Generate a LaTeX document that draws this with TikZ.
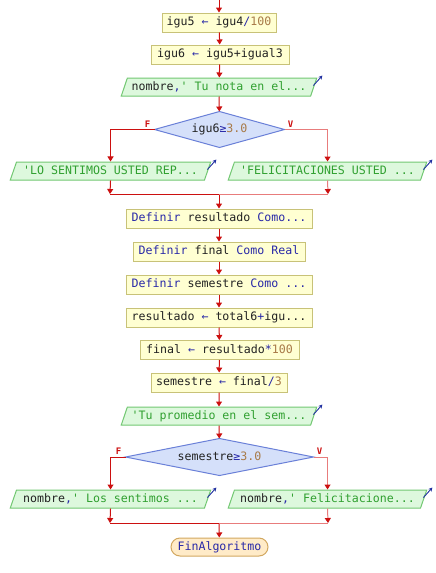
\documentclass[tikz,border=0pt]{standalone}
\usepackage{fontspec}
\setmonofont{DejaVu Sans Mono}
\usetikzlibrary{shapes.geometric,arrows.meta,backgrounds}

% colours of the flowchart
\definecolor{flowred}{HTML}{CC1010}
\definecolor{flowredlight}{HTML}{E87C7C}
\definecolor{procfill}{HTML}{FFFFD2}
\definecolor{procdraw}{HTML}{C8C278}
\definecolor{iofill}{HTML}{DDF8DD}
\definecolor{iodraw}{HTML}{72C872}
\definecolor{decfill}{HTML}{D5E0FA}
\definecolor{decdraw}{HTML}{6A80D8}
\definecolor{endfill}{HTML}{FFEBC8}
\definecolor{enddraw}{HTML}{D2A860}
\definecolor{kw}{HTML}{2828A8}
\definecolor{num}{HTML}{A87A48}
\definecolor{str}{HTML}{30A030}
\definecolor{txt}{HTML}{222222}
\definecolor{iconblue}{HTML}{2030A0}

% text pieces
\newcommand{\K}[1]{\textcolor{kw}{#1}}
\newcommand{\N}[1]{\textcolor{num}{#1}}
\newcommand{\Str}[1]{\textcolor{str}{#1}}

\tikzset{
  base/.style={font=\ttfamily\fontsize{11.6}{13}\selectfont, text=txt,
    text height=8.6pt, text depth=2.6pt, line width=1pt},
  procbox/.style={base, rectangle, draw=procdraw, fill=procfill,
    minimum height=19pt, inner sep=0pt},
  iobox/.style={base, trapezium, trapezium left angle=66, trapezium right angle=114,
    trapezium stretches=true, draw=iodraw, fill=iofill, minimum height=18pt, inner sep=1pt},
  % decision: invisible box, the diamond itself goes on the background layer
  decbox/.style={base, rectangle, inner sep=0pt},
  diamondshape/.style={draw=decdraw, fill=decfill, line width=1pt, line join=miter},
  endbox/.style={base, rectangle, rounded corners=9pt, draw=enddraw, fill=endfill,
    minimum height=18pt, inner sep=0pt},
  tip/.style={-{Triangle[width=6pt,length=5pt,color=flowred]}},
  flow/.style={draw=flowred, line width=1pt},
  flowlight/.style={draw=flowredlight, line width=1pt},
  branchlbl/.style={font=\ttfamily\fontsize{9}{10}\selectfont\bfseries, text=flowred, inner sep=0pt},
  outicon/.style={draw=iconblue, line width=0.9pt, -{Stealth[length=4pt,width=4pt]}}
}

\begin{document}
\begin{tikzpicture}[x=1pt,y=-1pt]
\useasboundingbox (0,0) rectangle (436,573);

% process steps, first block
\coordinate (start) at (219,0);
\node[procbox, minimum width=114pt] (s1) at (219,22.5) {igu5 \K{←} igu4\K{/}\N{100}};
\node[procbox, minimum width=138pt] (s2) at (220,54.5) {igu6 \K{←} igu5+igual3};
\node[iobox, minimum width=196pt] (o1) at (219,87) {nombre\K{,}\Str{' Tu nota en el...}};
\node[decbox, minimum width=129pt, minimum height=35pt] (d1) at (219.5,129.5) {igu6\K{≥}\N{3.0}};
\node[iobox, minimum width=201pt] (o2) at (110.5,171) {\Str{'LO SENTIMOS USTED REP...}};
\node[iobox, minimum width=199pt] (o3) at (327.5,171) {\Str{'FELICITACIONES USTED ...}};
\coordinate (j1L) at (110,194);
\coordinate (j1R) at (328,194);
\coordinate (j1) at (219,194);

% declarations and calculations
\node[procbox, minimum width=186pt] (s3) at (219,218.5) {\K{Definir} resultado \K{Como...}};
\node[procbox, minimum width=172pt] (s4) at (219,251.5) {\K{Definir} final \K{Como Real}};
\node[procbox, minimum width=186pt] (s5) at (219,284.5) {\K{Definir} semestre \K{Como ...}};
\node[procbox, minimum width=186pt] (s6) at (219,317.5) {resultado \K{←} total6\K{+}igu...};
\node[procbox, minimum width=159pt] (s7) at (219.5,350) {final \K{←} resultado\K{*}\N{100}};
\node[procbox, minimum width=136pt] (s8) at (219,382.5) {semestre \K{←} final\K{/}\N{3}};
\node[iobox, minimum width=196pt] (o4) at (219,416) {\Str{'Tu promedio en el sem...}};
\node[decbox, minimum width=187pt, minimum height=36pt] (d2) at (219.5,457) {semestre\K{≥}\N{3.0}};
\node[iobox, minimum width=201pt] (o5) at (110.5,499) {nombre\K{,}\Str{' Los sentimos ...}};
\node[iobox, minimum width=199pt] (o6) at (327.5,499) {nombre\K{,}\Str{' Felicitacione...}};
\coordinate (j2L) at (110,523);
\coordinate (j2R) at (328,523);
\coordinate (j2) at (219,523);
\node[endbox, minimum width=97pt] (fin) at (219.5,547) {\K{FinAlgoritmo}};

% page background and the diamonds behind the decision texts
\begin{scope}[on background layer]
  \fill[white] (0,0) rectangle (436,573);
  \foreach \d in {d1,d2}
    \draw[diamondshape] (\d.west) -- (\d.north) -- (\d.east) -- (\d.south) -- cycle;
\end{scope}

% output markers on the write steps
\foreach \o in {o1,o2,o3,o4,o5,o6}
  \draw[outicon] ([shift={(-4,8)}]\o.top right corner) -- ([shift={(5,-2)}]\o.top right corner);

% straight connectors
\draw[flow,tip] (start) -- (s1);
\draw[flow,tip] (s1) -- (s2);
\draw[flow,tip] (s2) -- (o1);
\draw[flow,tip] (o1) -- (d1);
\draw[flow,tip] (j1) -- (s3);
\draw[flow,tip] (s3) -- (s4);
\draw[flow,tip] (s4) -- (s5);
\draw[flow,tip] (s5) -- (s6);
\draw[flow,tip] (s6) -- (s7);
\draw[flow,tip] (s7) -- (s8);
\draw[flow,tip] (s8) -- (o4);
\draw[flow,tip] (o4) -- (d2);
\draw[flow,tip] (j2) -- (fin);

% first decision branches
\draw[flow,tip] (d1.west) -| (o2.north);
\draw[flowlight,tip] (d1.east) -| (o3.north);
\draw[flow,tip] (o2.south) -- (j1L);
\draw[flowlight,tip] (o3.south) -- (j1R);
\draw[flow] (j1L) -- (j1);
\draw[flowlight] (j1) -- (j1R);
\node[branchlbl, anchor=south] (f1) at ([shift={(-7,-2)}]d1.west) {F};
\node[branchlbl, anchor=south] (v1) at ([shift={(6,-2)}]d1.east) {V};

% second decision branches
\draw[flow,tip] (d2.west) -| (o5.north);
\draw[flowlight,tip] (d2.east) -| (o6.north);
\draw[flow,tip] (o5.south) -- (j2L);
\draw[flowlight,tip] (o6.south) -- (j2R);
\draw[flow] (j2L) -- (j2);
\draw[flowlight] (j2) -- (j2R);
\node[branchlbl, anchor=south] (f2) at ([shift={(-7,-2)}]d2.west) {F};
\node[branchlbl, anchor=south] (v2) at ([shift={(6,-2)}]d2.east) {V};
\end{tikzpicture}
\end{document}
